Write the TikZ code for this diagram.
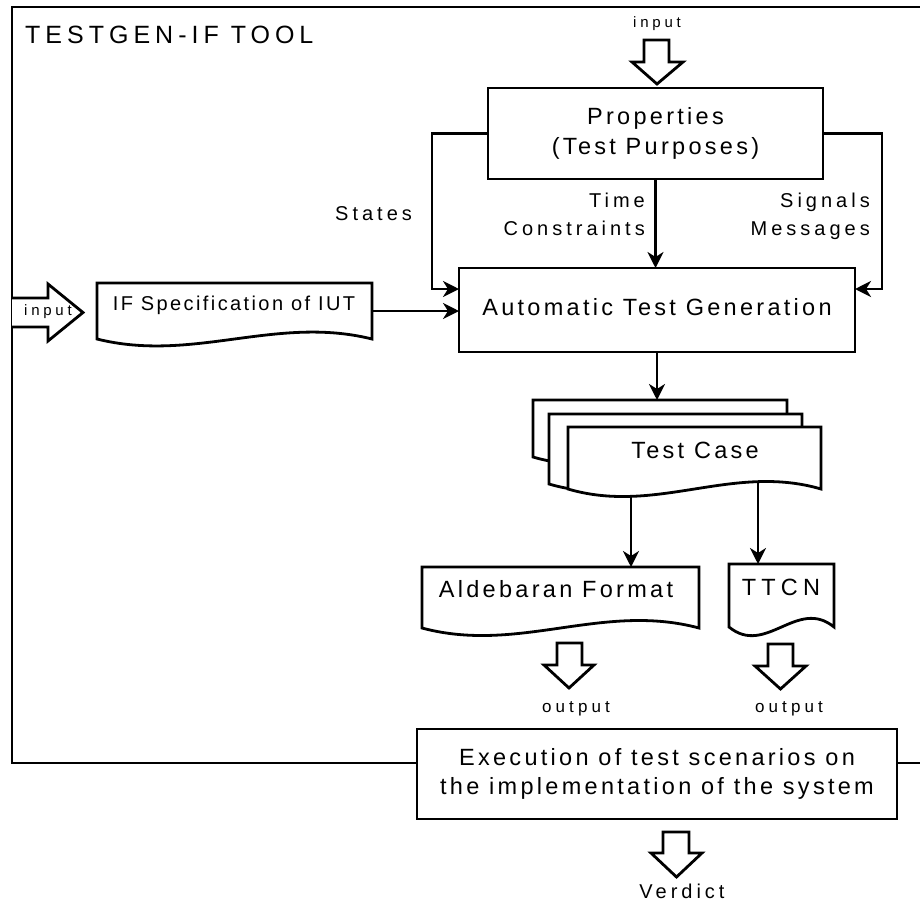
\documentclass[tikz,border=0pt]{standalone}
\usepackage{fontspec}
\usetikzlibrary{arrows.meta,calc}
\newfontfamily\fLab[LetterSpace=14]{Liberation Sans}
\newfontfamily\fSpec[LetterSpace=12]{Liberation Sans}
\newfontfamily\fLbl[LetterSpace=20]{Liberation Sans}
\newfontfamily\fTitle[LetterSpace=20]{Liberation Sans}
\newfontfamily\fOut[LetterSpace=24]{Liberation Sans}
\newfontfamily\fSmall[LetterSpace=25]{Liberation Sans}
\newfontfamily\fWide[LetterSpace=22]{Liberation Sans}
\newcommand\docshape[2]{%
  \path[docline] (#1.south west) -- (#1.north west) -- (#1.north east) -- (#1.south east)
    .. controls ($(#1.south east)!0.35!(#1.south west)+(0,-#2)$) and ($(#1.south east)!0.65!(#1.south west)+(0,#2)$) .. (#1.south west) -- cycle;}
\tikzset{
  lw/.style={line width=2.8pt},
  frame/.style={lw},
  box/.style={draw, lw, rectangle, inner sep=0pt, outer sep=0pt, fill=white},
  docnode/.style={rectangle, inner sep=0pt, outer sep=0pt},
  docline/.style={draw, lw, fill=white, line join=miter},
  blk/.style={draw, lw, fill=white, line join=miter},
  conn/.style={lw, -{Stealth[length=16pt,width=16pt,inset=5pt]}},
  main/.style={font={\fLab\fontsize{23.5}{30}\selectfont}, align=center},
  lbl/.style={font={\fLbl\fontsize{20}{24}\selectfont}, inner sep=0pt},
  small/.style={font={\fSmall\fontsize{15}{18}\selectfont}, inner sep=0pt},
  outlbl/.style={font={\fOut\fontsize{17}{20}\selectfont}, inner sep=0pt},
  doctext/.style={anchor=base, inner sep=0pt, font={\fLab\fontsize{23.5}{28}\selectfont}},
}
\begin{document}
\begin{tikzpicture}[x=1pt,y=-1pt]
\useasboundingbox (0,0) rectangle (920,903);

% main boxes
\node[box, main, minimum width=335, minimum height=91] (props) at (655.5,133.5) {Properties\\(Test Purposes)};
\node[box, main, minimum width=396, minimum height=84, text depth=6pt] (atg) at (657,310) {Automatic Test Generation};
\node[box, main, minimum width=480, minimum height=90, font={\fLab\fontsize{23.5}{29}\selectfont}] (exec) at (657,774) {Execution of test scenarios on\\the implementation of the system};

% frame
\draw[frame] ($(exec.west)+(0,-11)$) -| (12,7) -- (920,7);
\draw[frame] ($(exec.east)+(0,-11)$) -- (920,763);

% title
\node[anchor=base west, inner sep=0pt, font={\fTitle\fontsize{25}{30}\selectfont}] (title) at (25,43) {TESTGEN-IF TOOL};

% document nodes
\node[docnode, minimum width=275, minimum height=56] (spec) at (234.5,311) {};
\node[docnode, minimum width=254, minimum height=57] (tcB) at (660,428.5) {};
\node[docnode, minimum width=253, minimum height=70] (tcM) at (675.5,449) {};
\node[docnode, minimum width=253, minimum height=62] (tcF) at (694.5,458) {};
\node[docnode, minimum width=277, minimum height=61] (ald) at (560.5,597.5) {};
\node[docnode, minimum width=105, minimum height=63] (ttcn) at (781.5,595.5) {};

\docshape{spec}{24}
\docshape{tcB}{26}
\docshape{tcM}{26}
\docshape{tcF}{26}
\docshape{ald}{26}
\docshape{ttcn}{30}

\node[anchor=base, inner sep=0pt, font={\fSpec\fontsize{20}{24}\selectfont}] (specT) at (234,310) {IF Specification of IUT};
\node[doctext] (tcT) at (695,458) {Test Case};
\node[doctext] (aldT) at (556,597) {Aldebaran Format};
\node[doctext, font={\fWide\fontsize{23.5}{28}\selectfont}] (ttcnT) at (781,595) {TTCN};

% connectors
\draw[conn] (props.south) -- (props.south |- atg.north);
\draw[conn] (props.west) -- ++(-56,0) |- ($(atg.west)+(0,-21)$);
\draw[conn] (props.east) -- ++(59,0) |- ($(atg.east)+(0,-21)$);
\draw[conn] (spec.east) -- (spec.east -| atg.west);
\draw[conn] (atg.south) -- (atg.south |- tcB.north);
\coordinate (tcA) at (631,496);
\coordinate (tcTT) at (758,483);
\draw[conn] (tcA) -- (tcA |- ald.north);
\draw[conn] (tcTT) -- (tcTT |- ttcn.north);

% labels
\node[lbl, anchor=base east] (time) at (645,207) {Time};
\node[lbl, anchor=base east] (constr) at (645,235) {Constraints};
\node[lbl, anchor=base east] (signals) at (870,207) {Signals};
\node[lbl, anchor=base east] (messages) at (870,235) {Messages};
\node[lbl, anchor=base west] (states) at (335,220) {States};

% hollow block arrows
\draw[blk] (644,40) -- (669,40) -- (669,62) -- (683,62) -- (657,84) -- (632,62) -- (644,62) -- cycle;
\node[small, anchor=base] (inTop) at (657,27) {input};
\draw[blk] (12,298) -- (48,298) -- (48,284) -- (83,312.5) -- (48,341) -- (48,327) -- (12,327);
\node[small, anchor=base] (inLeft) at (48,315) {input};
\draw[blk] (557,643) -- (582,643) -- (582,665) -- (594,665) -- (569,688) -- (544,665) -- (557,665) -- cycle;
\node[outlbl, anchor=base] (outA) at (576,712) {output};
\draw[blk] (768,644) -- (793,644) -- (793,666) -- (806,666) -- (780.5,689) -- (755,666) -- (768,666) -- cycle;
\node[outlbl, anchor=base] (outB) at (789,712) {output};
\draw[blk] (663,832) -- (689,832) -- (689,853) -- (702,853) -- (676.5,877) -- (651,853) -- (663,853) -- cycle;
\node[font={\fLbl\fontsize{20}{24}\selectfont}, inner sep=0pt, anchor=base] (verdict) at (682,898) {Verdict};
\end{tikzpicture}
\end{document}
